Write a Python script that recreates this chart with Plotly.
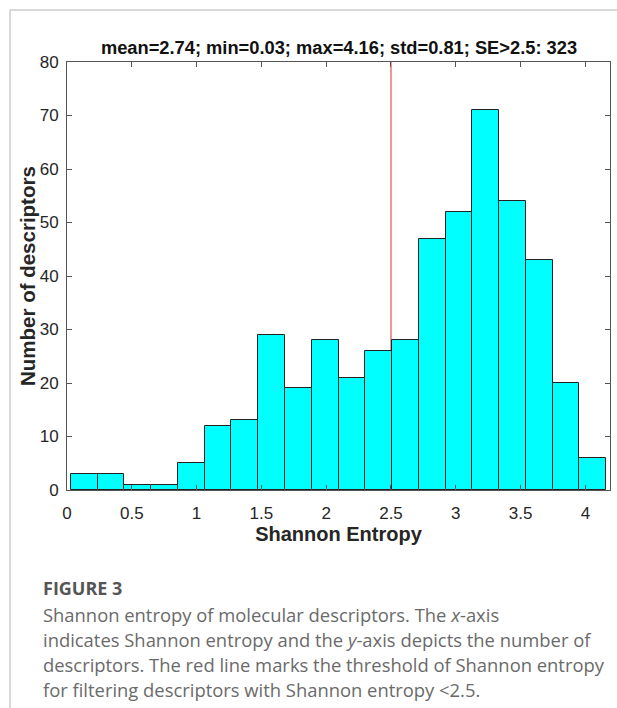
import numpy as np
import plotly.graph_objects as go

# ---- data ----
counts = [3, 3, 1, 1, 5, 12, 13, 29, 19, 28, 21, 26, 28, 47, 52, 71, 54, 43, 20, 6]
bin_min = 0.03
bin_max = 4.16
threshold = 2.5
title_text = "mean=2.74; min=0.03; max=4.16; std=0.81; SE>2.5: 323"
x_ticks = [0, 0.5, 1, 1.5, 2, 2.5, 3, 3.5, 4]
x_tick_labels = ["0", "0.5", "1", "1.5", "2", "2.5", "3", "3.5", "4"]
y_ticks = [0, 10, 20, 30, 40, 50, 60, 70, 80]
x_title = "Shannon Entropy"
y_title = "Number of descriptors"
caption_head = "FIGURE 3"
caption_lines = [
    "Shannon entropy of molecular descriptors. The <i>x</i>-axis",
    "indicates Shannon entropy and the <i>y</i>-axis depicts the number of",
    "descriptors. The red line marks the threshold of Shannon entropy",
    "for filtering descriptors with Shannon entropy &lt;2.5.",
]

n = len(counts)
edges = np.linspace(bin_min, bin_max, n + 1)
centers = (edges[:-1] + edges[1:]) / 2
width = edges[1] - edges[0]

W, H = 617, 708
L, R, T, B = 67, 7, 62, 218
pw, ph = W - L - R, H - T - B

def px(xpix):
    return (xpix - L) / pw

def py(ypix):
    return (H - B - ypix) / ph

FONT = "Liberation Sans, Arial, sans-serif"

fig = go.Figure()
fig.add_trace(go.Bar(
    x=centers, y=counts, width=[width] * n,
    marker=dict(color="#00FFFF", line=dict(color="#222222", width=1)),
    showlegend=False, hoverinfo="x+y",
))

axis_common = dict(
    showgrid=False, zeroline=False, showline=True, linecolor="#555555", linewidth=1,
    mirror="ticks", ticks="inside", ticklen=5, tickcolor="#555555",
    tickfont=dict(family=FONT, size=17, color="#262626"),
)

fig.update_layout(
    width=W, height=H,
    margin=dict(l=L, r=R, t=T, b=B),
    paper_bgcolor="white", plot_bgcolor="white",
    bargap=0,
    title=dict(text="<b>" + title_text + "</b>", x=339 / W, xanchor="center", xref="container",
               y=1 - 48 / H, yanchor="middle", yref="container",
               font=dict(family=FONT, size=18.3, color="#111111")),
    xaxis=dict(range=[0, 4.19], tickvals=x_ticks, ticktext=x_tick_labels,
               ticklabelstandoff=8,
               title=dict(text="<b>" + x_title + "</b>", standoff=3,
                          font=dict(family=FONT, size=20, color="#262626")),
               **axis_common),
    yaxis=dict(range=[0, 80], tickvals=y_ticks, ticklabelstandoff=4, **axis_common),
)

# y-axis title
fig.add_annotation(xref="paper", yref="paper", x=px(27), y=py(276), xanchor="center", yanchor="middle",
                   text="<b>" + y_title + "</b>", textangle=-90, showarrow=False,
                   font=dict(family=FONT, size=20.5, color="#262626"))

# threshold line (behind bars)
fig.add_shape(type="line", xref="x", yref="y", x0=threshold, x1=threshold, y0=0, y1=80,
              line=dict(color="#F07272", width=1.5), layer="below")

# page frame
fig.add_shape(type="line", xref="paper", yref="paper", x0=px(10), x1=px(W + 5), y0=py(10), y1=py(10),
              line=dict(color="#cccccc", width=1.5))
fig.add_shape(type="line", xref="paper", yref="paper", x0=px(10), x1=px(10), y0=py(10), y1=py(H + 5),
              line=dict(color="#cccccc", width=1.5))

# caption
fig.add_annotation(xref="paper", yref="paper", x=px(41), y=py(588), xanchor="left", yanchor="middle",
                   text="<b>" + caption_head + "</b>", showarrow=False,
                   font=dict(family="Open Sans, sans-serif", size=18, color="#555555"))
for i, line in enumerate(caption_lines):
    fig.add_annotation(xref="paper", yref="paper", x=px(41), y=py(614 + 25 * i), xanchor="left",
                       yanchor="middle", text=line, showarrow=False,
                       font=dict(family="Open Sans, sans-serif", size=18.4, color="#6a6a6a"))

fig.write_html("out.html")
